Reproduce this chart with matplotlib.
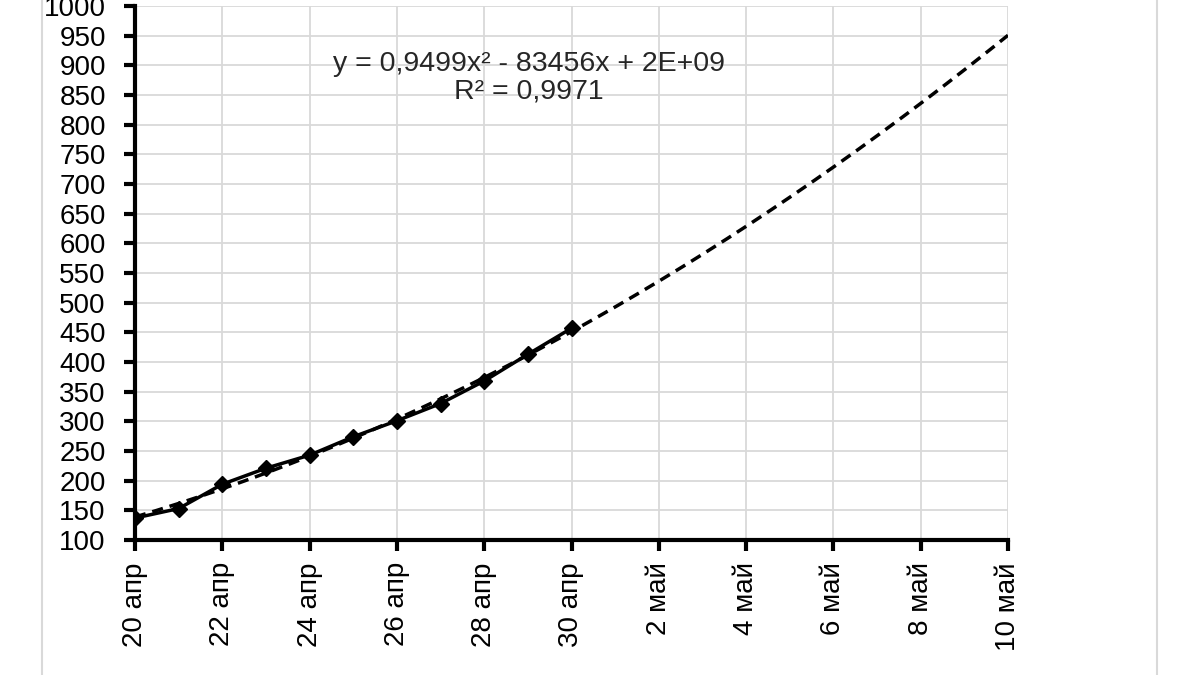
import numpy as np
import matplotlib
matplotlib.use('Agg')
import matplotlib.pyplot as plt

plt.rcParams['font.family'] = ['Liberation Sans', 'DejaVu Sans']

# дни от 20 апреля
days = [0, 1, 2, 3, 4, 5, 6, 7, 8, 9, 10]
values = [137, 153, 194, 221, 243, 274, 301, 330, 368, 413, 457]

tick_days = [0, 2, 4, 6, 8, 10, 12, 14, 16, 18, 20]
tick_labels = ['20 апр', '22 апр', '24 апр', '26 апр', '28 апр', '30 апр',
               '2 май', '4 май', '6 май', '8 май', '10 май']
y_ticks = list(range(100, 1001, 50))

eq_text = 'y = 0,9499x² - 83456x + 2E+09\nR² = 0,9971'

fig = plt.figure(figsize=(12, 6.75), dpi=100)
ax = fig.add_axes([0.1125, 0.2, 0.7275, 0.791])

# полиномиальный тренд 2-й степени по данным (как в Excel)
coef = np.polyfit(days, values, 2)
xt = np.linspace(tick_days[0], tick_days[-1], 200)
ax.plot(xt, np.polyval(coef, xt), color='black', lw=2.5, ls=(0, (3.2, 2)), zorder=3)

ax.plot(days, values, color='black', lw=2.5, marker='D', ms=8, zorder=4)

ax.set_xlim(tick_days[0], tick_days[-1])
ax.set_ylim(100, 1000)
ax.set_xticks(tick_days)
ax.set_xticklabels(tick_labels, rotation=90, fontsize=20)
ax.set_yticks(y_ticks)
ax.set_yticklabels([str(v) for v in y_ticks], fontsize=20)
ax.grid(True, color='#d9d9d9', lw=1.3)
ax.set_axisbelow(True)

for s in ['top', 'right']:
    ax.spines[s].set_visible(False)
for s in ['left', 'bottom']:
    ax.spines[s].set_linewidth(3)
ax.tick_params(axis='both', direction='out', length=8, width=3)
ax.tick_params(axis='y', pad=13)
ax.tick_params(axis='x', pad=8)

ax.text(0.451, 0.866, eq_text, transform=ax.transAxes, ha='center', va='center',
        fontsize=20.5, color='#262626', linespacing=1.1)

# серая рамка вокруг области
for xf in [42 / 1200, 1157 / 1200]:
    fig.add_artist(plt.Line2D([xf, xf], [0, 1], transform=fig.transFigure,
                              color='#d9d9d9', lw=1.5))

fig.savefig('out.png', dpi=100)
